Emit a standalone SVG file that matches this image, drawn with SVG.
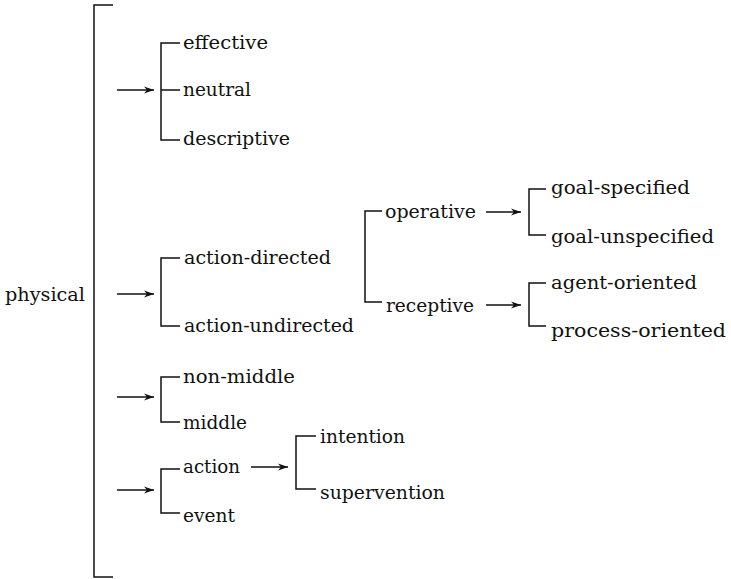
<svg xmlns="http://www.w3.org/2000/svg" width="731" height="579" viewBox="0 0 731 579">
<defs>
<marker id="ah" viewBox="0 0 10 8" refX="10" refY="4" markerWidth="10" markerHeight="8" markerUnits="userSpaceOnUse" orient="auto">
<path d="M0,0.5 L10,4 L0,7.5 L3,4 Z" fill="#111"/>
</marker>
<style>
text{font-family:"DejaVu Serif","Liberation Serif",serif;font-size:18px;fill:#111}
.b{fill:none;stroke:#111;stroke-width:1.5}
.a{fill:none;stroke:#111;stroke-width:1.5;marker-end:url(#ah)}
</style>
</defs>
<rect width="731" height="579" fill="#fff"/>
<g id="connectors">
<path class="b" d="M113,5 H94 V577 H113"/>
<path class="a" d="M117,90 H154"/>
<path class="b" d="M180,43 H161 V140 H180 M161,90 H180"/>
<path class="a" d="M117,294 H154"/>
<path class="b" d="M180,258 H161 V326 H180"/>
<path class="b" d="M382,211 H365 V302 H382"/>
<path class="a" d="M486,212 H521"/>
<path class="b" d="M546,189 H529 V235 H546"/>
<path class="a" d="M486,305 H521"/>
<path class="b" d="M546,283 H529 V326 H546"/>
<path class="a" d="M117,397 H154"/>
<path class="b" d="M180,377 H161 V422 H180"/>
<path class="a" d="M117,490 H154"/>
<path class="b" d="M180,469 H161 V513 H180"/>
<path class="a" d="M251,467 H288"/>
<path class="b" d="M316,436 H296 V489 H316"/>
</g>
<g id="physical"><text x="5" y="301" textLength="80" lengthAdjust="spacingAndGlyphs">physical</text></g>
<g id="effective"><text x="183" y="49" textLength="85" lengthAdjust="spacingAndGlyphs">effective</text></g>
<g id="neutral"><text x="183" y="96" textLength="68" lengthAdjust="spacingAndGlyphs">neutral</text></g>
<g id="descriptive"><text x="183" y="145" textLength="107" lengthAdjust="spacingAndGlyphs">descriptive</text></g>
<g id="action-directed"><text x="184" y="264" textLength="147" lengthAdjust="spacingAndGlyphs">action-directed</text></g>
<g id="action-undirected"><text x="184" y="332" textLength="170" lengthAdjust="spacingAndGlyphs">action-undirected</text></g>
<g id="operative"><text x="385" y="218" textLength="91" lengthAdjust="spacingAndGlyphs">operative</text></g>
<g id="receptive"><text x="386" y="312" textLength="88" lengthAdjust="spacingAndGlyphs">receptive</text></g>
<g id="goal-specified"><text x="551" y="194" textLength="139" lengthAdjust="spacingAndGlyphs">goal-specified</text></g>
<g id="goal-unspecified"><text x="551" y="243" textLength="163" lengthAdjust="spacingAndGlyphs">goal-unspecified</text></g>
<g id="agent-oriented"><text x="551" y="289" textLength="146" lengthAdjust="spacingAndGlyphs">agent-oriented</text></g>
<g id="process-oriented"><text x="551" y="337" textLength="175" lengthAdjust="spacingAndGlyphs">process-oriented</text></g>
<g id="non-middle"><text x="183" y="383" textLength="112" lengthAdjust="spacingAndGlyphs">non-middle</text></g>
<g id="middle"><text x="183" y="429" textLength="64" lengthAdjust="spacingAndGlyphs">middle</text></g>
<g id="action"><text x="183" y="473" textLength="57" lengthAdjust="spacingAndGlyphs">action</text></g>
<g id="event"><text x="183" y="522" textLength="52" lengthAdjust="spacingAndGlyphs">event</text></g>
<g id="intention"><text x="320" y="443" textLength="85" lengthAdjust="spacingAndGlyphs">intention</text></g>
<g id="supervention"><text x="320" y="499" textLength="125" lengthAdjust="spacingAndGlyphs">supervention</text></g>
</svg>
